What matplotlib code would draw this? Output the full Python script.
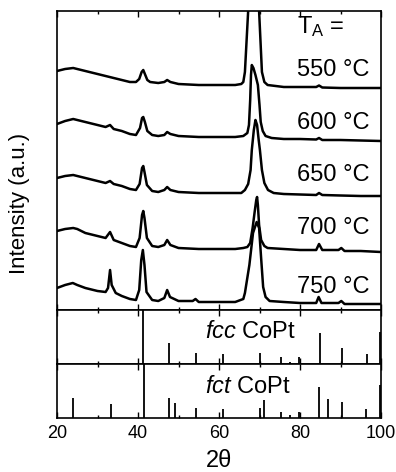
import matplotlib
matplotlib.use("Agg")
import matplotlib.pyplot as plt
from matplotlib.ticker import MultipleLocator

plt.rcParams['font.family'] = ['Liberation Sans', 'DejaVu Sans']
plt.rcParams['mathtext.fontset'] = 'custom'
plt.rcParams['mathtext.rm'] = 'Liberation Sans'
plt.rcParams['mathtext.it'] = 'Liberation Sans:italic'

# XRD scans, stacked (2theta in degrees, intensity in a.u. incl. offset)
tth_550 = [20, 22, 24, 26, 28, 30, 32, 34, 36, 38, 39.5, 40.3, 40.9, 41.3, 41.7, 42.3, 43, 45, 46.5, 47.2,
           48, 50, 55, 60, 64, 65.5, 66.0, 66.4, 67.2, 68.6, 69.9, 70.6, 71.2, 72, 74, 76, 80, 84, 84.7,
           85.5, 90, 95, 100]
int_550 = [239, 241, 242, 240, 238, 236, 234, 232, 230, 228, 228, 231, 238, 240, 236, 230, 228, 227, 228, 230,
           228, 226, 225, 225, 225, 226, 228, 238, 299, 370, 299, 238, 228, 225, 224, 223, 223, 223, 224.5,
           222.5, 222, 222, 222]

tth_600 = [20, 22, 24, 25, 27, 30, 32, 33.1, 34, 36, 38, 39.5, 40.5, 41.0, 41.3, 41.7, 42.3, 43.5, 45, 46.5,
           47.2, 48, 50, 55, 60, 64, 66.0, 67.0, 67.4, 67.7, 67.9, 68.1, 68.5, 69.0, 69.6, 70.0, 70.3, 70.8,
           71.5, 73, 76, 80, 84, 84.7, 85.5, 90, 95, 100]
int_600 = [186, 189, 191, 190, 188, 185, 183, 185, 181, 179, 176, 175, 182, 192, 193, 188, 179, 175, 174, 175,
           178, 176, 174, 173, 173, 173, 174, 177, 185, 210, 235, 245, 242, 235, 225, 205, 188, 179,
           174, 172, 171, 171, 170.5, 172, 170, 170, 169.5, 169]

tth_650 = [20, 22, 24, 26, 28, 30, 32, 33.1, 34, 36, 38, 39.5, 40.4, 41.0, 41.3, 41.6, 42.2, 43.5, 45, 46.5,
           47.2, 48, 50, 55, 60, 64, 65.5, 66.4, 67.2, 67.8, 68.1, 68.6, 69.0, 69.4, 69.8, 70.1, 70.6, 71.2,
           72.1, 73.5, 76, 80, 84, 84.7, 85.5, 90, 95, 100]
int_650 = [132, 134, 135, 133, 131, 129, 127, 129, 126, 124, 121, 120, 126, 142, 144, 138, 125, 119, 118, 120,
           123, 120, 118, 117, 117, 117, 117, 120, 126, 140, 160, 180, 190, 185, 170, 160, 140, 127,
           120, 117, 116, 115.5, 115, 117, 115, 114.5, 114, 114]

tth_700 = [20, 22, 24, 25, 27, 30, 32, 33.1, 34, 36, 38, 39.5, 40.4, 41.0, 41.3, 41.6, 42.2, 43.5, 45, 46.5,
           47.2, 48, 50, 55, 60, 64, 66, 67.0, 67.7, 68.3, 68.8, 69.2, 69.4, 69.6, 69.9, 70.4, 71.2, 72,
           76, 80, 84, 84.7, 85.5, 89.5, 90.2, 91, 95, 100]
int_700 = [79, 81, 82, 81, 77, 74, 72, 78, 70, 67, 64, 63, 72, 95, 99, 92, 72, 64, 63, 65,
           70, 65, 62, 61, 61, 61, 62, 63, 67, 82, 98, 110, 113, 105, 85, 70, 64, 62,
           61, 60, 60, 66, 60, 60, 62, 59, 59, 58]

tth_750 = [20, 22, 23.9, 25, 27, 30, 32, 32.6, 33.1, 33.5, 34.5, 36, 38, 39.5, 40.3, 40.8, 41.2, 41.6, 42.1,
           43.5, 45, 46.5, 47.2, 47.9, 50, 53.5, 54.2, 55, 60, 64, 66.0, 66.4, 67.5, 68.4, 69.3, 69.9, 70.4,
           70.9, 71.5, 72.5, 76, 80, 84, 84.6, 85.3, 89.5, 90.2, 91, 100]
int_750 = [22, 25, 27, 25, 22, 19, 18, 22, 40, 25, 17, 14, 11, 10, 20, 50, 60, 45, 18,
           10, 9, 12, 20, 13, 9, 9, 11, 8, 8, 8, 11, 17, 45, 77, 88, 82, 52,
           23, 13, 9, 8, 7, 7, 13, 7, 7, 9, 6, 6]

scans = [(tth_550, int_550), (tth_600, int_600), (tth_650, int_650), (tth_700, int_700), (tth_750, int_750)]
temps = ["550 °C", "600 °C", "650 °C", "700 °C", "750 °C"]
label_y = [240, 187, 135, 82, 23]

# reference stick patterns (relative intensity, %)
fcc_pos = [41.3, 47.7, 54.3, 61.0, 70.1, 75.3, 77.5, 79.8, 84.9, 90.3, 96.5, 99.8]
fcc_int = [100, 39, 20, 19, 20, 13, 4, 13, 57, 30, 19, 59]
fct_pos = [24.0, 33.3, 41.4, 47.6, 49.2, 54.3, 60.9, 70.0, 71.1, 75.2, 77.5, 79.8, 84.7, 87.0, 90.3, 96.4, 99.8]
fct_int = [37, 26, 100, 37, 28, 19, 17, 19, 33, 11, 6, 11, 57, 35, 30, 17, 61]

W, H = 396, 472
fig = plt.figure(figsize=(W / 100, H / 100), dpi=100)
L, R = 57 / W, 381 / W


def panel(top_px, bot_px):
    ax = fig.add_axes([L, 1 - bot_px / H, R - L, (bot_px - top_px) / H])
    ax.set_xlim(20, 100)
    ax.xaxis.set_major_locator(MultipleLocator(20))
    ax.xaxis.set_minor_locator(MultipleLocator(10))
    ax.tick_params(axis='x', which='both', direction='in', top=True, bottom=True, labelbottom=False)
    ax.tick_params(axis='x', which='major', length=4, width=1)
    ax.tick_params(axis='x', which='minor', length=2.5, width=1)
    ax.set_yticks([])
    for s in ax.spines.values():
        s.set_linewidth(1.2)
    return ax


ax = panel(11, 310)
ax.set_ylim(0, 299)
for x, y in scans:
    ax.plot(x, y, color='black', lw=1.8, solid_joinstyle='round')
for t, y in zip(temps, label_y):
    ax.text(0.965, y, t, transform=ax.get_yaxis_transform(), ha='right', va='center', fontsize=17)
ax.text(0.815, 283, r"T$_\mathrm{A}$ =", transform=ax.get_yaxis_transform(), ha='center', va='center',
        fontsize=17)

ax_fcc = panel(310, 364)
ax_fcc.set_ylim(0, 100)
ax_fcc.vlines(fcc_pos, 0, fcc_int, color='black', lw=1.3)
ax_fcc.text(0.458, 0.6, r"$\mathit{fcc}$ CoPt", transform=ax_fcc.transAxes, ha='left', va='center', fontsize=17)

ax_fct = panel(364, 418)
ax_fct.set_ylim(0, 100)
ax_fct.vlines(fct_pos, 0, fct_int, color='black', lw=1.3)
ax_fct.text(0.458, 0.57, r"$\mathit{fct}$ CoPt", transform=ax_fct.transAxes, ha='left', va='center', fontsize=17)
ax_fct.tick_params(axis='x', labelbottom=True, labelsize=13, pad=5)
ax_fct.set_xlabel("2θ", fontsize=17, labelpad=6)

fig.text(20 / W, 1 - 203 / H, "Intensity (a.u.)", rotation=90, ha='center', va='center', fontsize=16)

fig.savefig("out.png", dpi=100)
